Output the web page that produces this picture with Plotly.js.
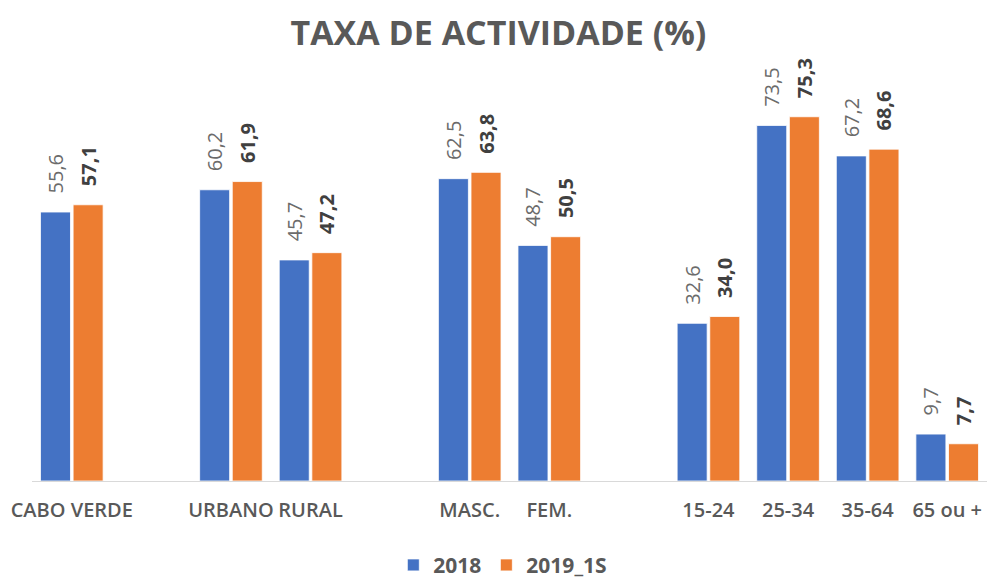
<!DOCTYPE html>
<html>
<head>
<meta charset="utf-8">
<script src="https://cdn.plot.ly/plotly-3.0.1.min.js"></script>
<style>html,body{margin:0;padding:0;background:#fff;}#chart{width:987px;height:578px;}</style>
</head>
<body>
<div id="chart"></div>
<script>
// Categories (blank slots are spacer categories in the original chart)
const categories = ["CABO VERDE", " ", "URBANO", "RURAL", "  ", "MASC.", "FEM.", "   ", "15-24", "25-34", "35-64", "65 ou +"];
const series2018 = [55.6, null, 60.2, 45.7, null, 62.5, 48.7, null, 32.6, 73.5, 67.2, 9.7];
const series2019 = [57.1, null, 61.9, 47.2, null, 63.8, 50.5, null, 34.0, 75.3, 68.6, 7.7];
const seriesNames = ["2018", "2019_1S"];

const FONT = "Open Sans, Noto Sans, sans-serif";
const PAD = "\u00a0\u00a0\u00a0";

const traces = [
  {
    type: "bar", name: seriesNames[0], x: categories, y: series2018,
    marker: {color: "#4472C4", line: {color: "#ffffff", width: 0.8}},
    texttemplate: PAD + "%{y:.1f}", textposition: "outside", textangle: -90,
    constraintext: "none",
    textfont: {family: FONT, size: 20, color: "#6b6b6b"},
    cliponaxis: false, hoverinfo: "skip"
  },
  {
    type: "bar", name: seriesNames[1], x: categories, y: series2019,
    marker: {color: "#ED7D31", line: {color: "#ffffff", width: 0.8}},
    texttemplate: PAD + "<b>%{y:.1f}</b>", textposition: "outside", textangle: -90,
    constraintext: "none",
    textfont: {family: FONT, size: 20, color: "#404040"},
    cliponaxis: false, hoverinfo: "skip"
  }
];

const layout = {
  width: 987, height: 578,
  margin: {l: 32, r: 0, t: 94, b: 97, autoexpand: false},
  paper_bgcolor: "#ffffff", plot_bgcolor: "#ffffff",
  separators: ",.",
  barmode: "group", bargap: 0.18, bargroupgap: 0.08,
  title: {
    text: "<b>TAXA DE ACTIVIDADE (%)</b>",
    font: {family: FONT, size: 34, color: "#595959"},
    x: 0.505, xanchor: "center", y: 0.942, yanchor: "middle"
  },
  xaxis: {
    type: "category", automargin: false,
    showline: true, linecolor: "#D9D9D9", linewidth: 1,
    ticks: "", showgrid: false, zeroline: false,
    tickfont: {family: FONT, size: 20, color: "#595959", weight: 600},
    ticklabelstandoff: 11
  },
  yaxis: {
    range: [0, 80], visible: false, showgrid: false, zeroline: false, automargin: false
  },
  showlegend: true,
  legend: {
    orientation: "h", x: 0.493, xanchor: "center",
    yref: "container", y: 0.022, yanchor: "middle",
    font: {family: FONT, size: 21, color: "#595959", weight: 700},
    itemwidth: 30, traceorder: "normal"
  }
};

Plotly.newPlot("chart", traces, layout, {staticPlot: true, displayModeBar: false});
</script>
</body>
</html>
